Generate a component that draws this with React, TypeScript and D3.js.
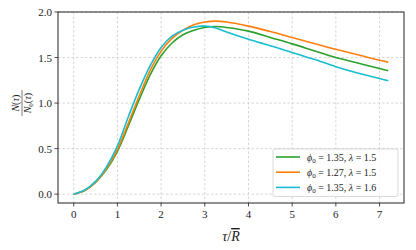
import * as d3 from "d3";

const tau = [0, 0.25, 0.5, 0.75, 1, 1.25, 1.5, 1.75, 2, 2.25, 2.5, 2.75, 3, 3.25, 3.5, 4, 4.5, 5, 5.5, 6, 6.5, 7, 7.2];
const greenVals = [0, 0.04, 0.13, 0.27, 0.47, 0.75, 1.04, 1.31, 1.52, 1.66, 1.75, 1.80, 1.83, 1.84, 1.83, 1.79, 1.72, 1.65, 1.575, 1.5, 1.44, 1.38, 1.355];
const orangeVals = [0, 0.04, 0.13, 0.28, 0.49, 0.78, 1.08, 1.36, 1.57, 1.71, 1.80, 1.86, 1.89, 1.9, 1.89, 1.845, 1.785, 1.72, 1.655, 1.59, 1.53, 1.47, 1.45];
const cyanVals = [0, 0.045, 0.14, 0.3, 0.53, 0.85, 1.15, 1.41, 1.61, 1.735, 1.8, 1.835, 1.845, 1.825, 1.78, 1.7, 1.63, 1.555, 1.48, 1.4, 1.33, 1.27, 1.245];

const phi0 = ["1.35", "1.27", "1.35"];
const lambdas = ["1.5", "1.5", "1.6"];
const colors = ["#2ca02c", "#ff7f0e", "#17becf"];
const xTicks = [0, 1, 2, 3, 4, 5, 6, 7];
const yTicks = [0, 0.5, 1, 1.5, 2];

const W = 416;
const H = 250;
const left = 58;
const right = 404;
const top = 12;
const bottom = 203;

export default function App() {
  const x = d3.scaleLinear().domain([-0.36, 7.56]).range([left, right]);
  const y = d3.scaleLinear().domain([-0.097, 2.0]).range([bottom, top]);
  const line = d3
    .line<[number, number]>()
    .x(d => x(d[0]))
    .y(d => y(d[1]))
    .curve(d3.curveCatmullRom);

  const series = [greenVals, orangeVals, cyanVals];

  return (
    <svg
      width={W}
      height={H}
      style={{ position: "absolute", left: 0, top: 0, fontFamily: "Liberation Serif, serif" }}
    >
      <rect width={W} height={H} fill="white" />
      {/* grid */}
      <g stroke="#cccccc" strokeWidth={0.8} strokeDasharray="2.5,2">
        {xTicks.map(t => (
          <line key={"gx" + t} x1={x(t)} x2={x(t)} y1={top} y2={bottom} />
        ))}
        {yTicks.map(t => (
          <line key={"gy" + t} x1={left} x2={right} y1={y(t)} y2={y(t)} />
        ))}
      </g>
      {/* lines */}
      {series.map((vals, i) => (
        <path
          key={i}
          d={line(tau.map((t, j) => [t, vals[j]] as [number, number])) || undefined}
          fill="none"
          stroke={colors[i]}
          strokeWidth={1.6}
        />
      ))}
      {/* frame */}
      <rect x={left} y={top} width={right - left} height={bottom - top} fill="none" stroke="#222" strokeWidth={1} />
      {/* x ticks */}
      {xTicks.map(t => (
        <g key={"xt" + t}>
          <line x1={x(t)} x2={x(t)} y1={bottom} y2={bottom + 3.5} stroke="#222" strokeWidth={0.8} />
          <text x={x(t)} y={bottom + 15} textAnchor="middle" fontSize={11} fill="#222">
            {t}
          </text>
        </g>
      ))}
      {/* y ticks */}
      {yTicks.map(t => (
        <g key={"yt" + t}>
          <line x1={left - 3.5} x2={left} y1={y(t)} y2={y(t)} stroke="#222" strokeWidth={0.8} />
          <text x={left - 6} y={y(t) + 4} textAnchor="end" fontSize={11} fill="#222">
            {t.toFixed(1)}
          </text>
        </g>
      ))}
      {/* x label */}
      <text x={(left + right) / 2} y={241} textAnchor="middle" fontSize={14} fill="#222">
        <tspan fontStyle="italic">τ</tspan>
        <tspan>/</tspan>
        <tspan fontStyle="italic" textDecoration="overline">R</tspan>
      </text>
      {/* y label (fraction) */}
      <g transform={`translate(22,${y(1)}) rotate(-90)`} fill="#222">
        <text x={0} y={-3} textAnchor="middle" fontSize={10}>
          <tspan fontStyle="italic">N</tspan>(<tspan fontStyle="italic">τ</tspan>)
        </text>
        <line x1={-13} x2={13} y1={0} y2={0} stroke="#222" strokeWidth={0.6} />
        <text x={0} y={9} textAnchor="middle" fontSize={10}>
          <tspan fontStyle="italic">N</tspan>
          <tspan fontSize={7} dy={2}>0</tspan>
          <tspan dy={-2}>(</tspan>
          <tspan fontStyle="italic">τ</tspan>)
        </text>
      </g>
      {/* legend */}
      <g>
        <rect x={273} y={149} width={125} height={47.5} rx={2} fill="white" fillOpacity={0.85} stroke="#d0d0d0" strokeWidth={0.8} />
        {colors.map((c, i) => {
          const ly = 157 + i * 15.2;
          return (
            <g key={"lg" + i}>
              <line x1={276} x2={300} y1={ly} y2={ly} stroke={c} strokeWidth={1.6} />
              <text x={307} y={ly + 3.5} fontSize={10} fill="#222">
                <tspan fontStyle="italic">ϕ</tspan>
                <tspan fontSize={7} dy={2}>0</tspan>
                <tspan dy={-2}> = {phi0[i]}, </tspan>
                <tspan fontStyle="italic">λ</tspan>
                <tspan> = {lambdas[i]}</tspan>
              </text>
            </g>
          );
        })}
      </g>
    </svg>
  );
}
